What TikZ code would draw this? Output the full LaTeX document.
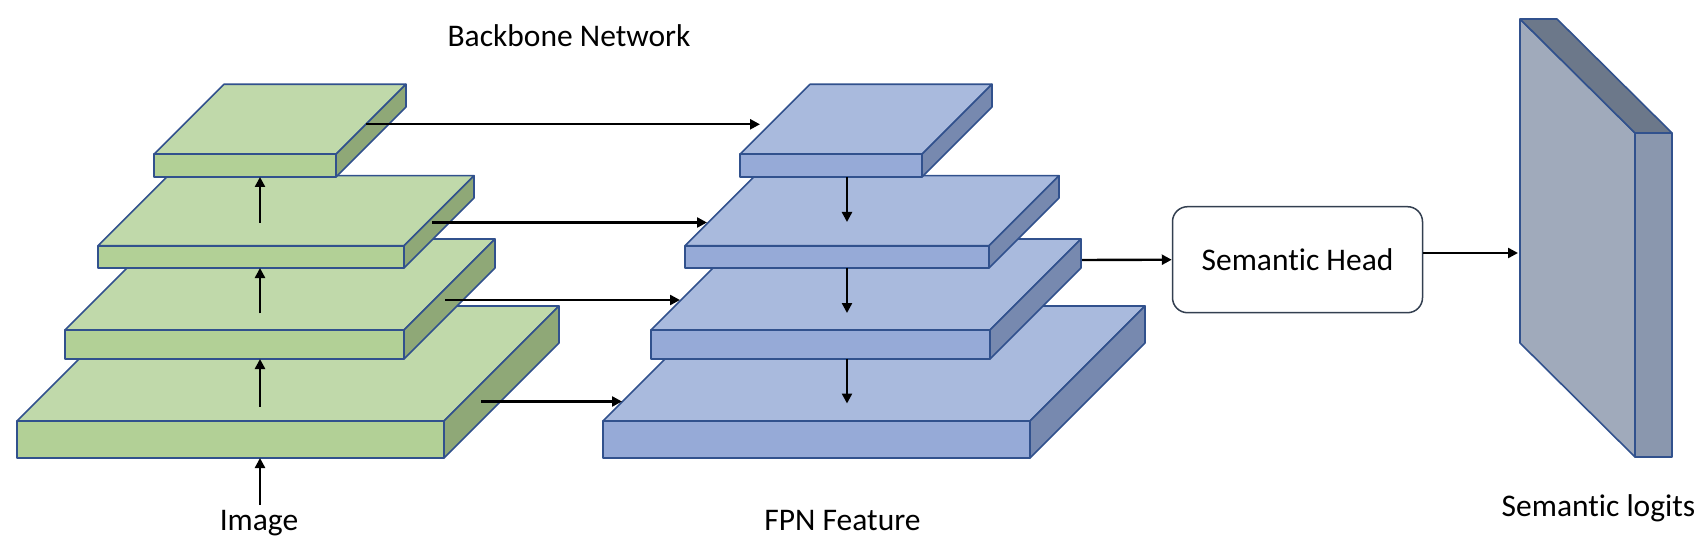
\documentclass[tikz,border=0pt]{standalone}
\usepackage{fontspec}
\setmainfont{Carlito}[Ligatures=NoCommon]
\usetikzlibrary{arrows.meta,calc}

\definecolor{edgeblue}{HTML}{31518D}
\definecolor{headedge}{HTML}{333F50}
\definecolor{greentopc}{HTML}{C0D9AA}
\definecolor{greenfrontc}{HTML}{B2D096}
\definecolor{greensidec}{HTML}{8FA877}
\definecolor{bluetopc}{HTML}{A9BADD}
\definecolor{bluefrontc}{HTML}{96AAD7}
\definecolor{bluesidec}{HTML}{7789AF}
\definecolor{logitfrontc}{HTML}{A0AABB}
\definecolor{logitsidec}{HTML}{8A97AE}
\definecolor{logittopc}{HTML}{6C788A}

% #1 colour prefix, #2 left, #3 right, #4 top, #5 bottom, #6 depth
\newcommand{\slab}[6]{%
  \filldraw[#1top] (#2,#4) -- (#3,#4) -- ($(#3,#4)+(#6,-#6)$) -- ($(#2,#4)+(#6,-#6)$) -- cycle;
  \filldraw[#1side] (#3,#4) -- ($(#3,#4)+(#6,-#6)$) -- ($(#3,#5)+(#6,-#6)$) -- (#3,#5) -- cycle;
  \filldraw[#1front] (#2,#4) rectangle (#3,#5);
}

\begin{document}
\begin{tikzpicture}[x=1pt,y=-1pt,
    face/.style={draw=edgeblue,line width=1.6pt,line join=round},
    greentop/.style={face,fill=greentopc},
    greenfront/.style={face,fill=greenfrontc},
    greenside/.style={face,fill=greensidec},
    bluetop/.style={face,fill=bluetopc},
    bluefront/.style={face,fill=bluefrontc},
    blueside/.style={face,fill=bluesidec},
    conn/.style={-{Triangle[length=10pt,width=10pt]},line width=2.4pt},
    txt/.style={font=\fontsize{31.5}{38}\selectfont,inner sep=0pt},
    head/.style={draw=headedge,line width=1.5pt,rounded corners=15pt,
      minimum width=250pt,minimum height=106pt,font=\fontsize{31.5}{38}\selectfont}]
  \useasboundingbox (0,0) rectangle (1702,548);

  % backbone
  \slab{green}{17}{444}{421}{458}{115}
  \slab{green}{65}{404}{330}{359}{91}
  \slab{green}{98}{404}{245.7}{268}{70}
  \slab{green}{154}{336}{154.3}{177}{70}

  % fpn
  \slab{blue}{603}{1030}{421}{458}{115}
  \slab{blue}{651}{990}{330}{359}{91}
  \slab{blue}{685}{989}{245.7}{268}{70}
  \slab{blue}{740}{922}{154.3}{177}{70}

  % logits
  \filldraw[face,fill=logitfrontc] (1520,19) -- (1635,133) -- (1635,457) -- (1520,343) -- cycle;
  \filldraw[face,fill=logittopc] (1520,19) -- (1557,19) -- (1672,133) -- (1635,133) -- cycle;
  \filldraw[face,fill=logitsidec] (1635,133) -- (1672,133) -- (1672,457) -- (1635,457) -- cycle;

  \node[txt,anchor=base] (backbone) at (569,46.7) {Backbone Network};
  \node[txt,anchor=base] (img) at (259,530.7) {Image};
  \node[txt,anchor=base] (fpn) at (842.5,530.7) {FPN Feature};
  \node[txt,anchor=base] (logits) at (1598.5,516) {Semantic logits};
  \node[head] (head) at (1297.5,259.7) {Semantic Head};

  % up the backbone
  \coordinate (g0_up) at (260,505);   \coordinate (g4_bot) at (260,458);
  \coordinate (g4_up) at (260,406.7); \coordinate (g3_bot) at (260,359);
  \coordinate (g3_up) at (260,313.3); \coordinate (g2_bot) at (260,268);
  \coordinate (g2_up) at (260,222.7); \coordinate (g1_bot) at (260,177);
  \draw[conn] (g0_up) -- (g4_bot);
  \draw[conn] (g4_up) -- (g3_bot);
  \draw[conn] (g3_up) -- (g2_bot);
  \draw[conn] (g2_up) -- (g1_bot);

  % lateral
  \coordinate (g1_out) at (366,124.3); \coordinate (b1_in) at (760,124.3);
  \coordinate (g2_out) at (432,222.5); \coordinate (b2_in) at (707,222.5);
  \coordinate (g3_out) at (445,300);   \coordinate (b3_in) at (680,300);
  \coordinate (g4_out) at (481,401.5); \coordinate (b4_in) at (622,401.5);
  \draw[conn] (g1_out) -- (b1_in);
  \draw[conn] (g2_out) -- (b2_in);
  \draw[conn] (g3_out) -- (b3_in);
  \draw[conn] (g4_out) -- (b4_in);

  % top-down
  \coordinate (b1_bot) at (847,177);   \coordinate (b2_dn) at (847,222);
  \coordinate (b2_bot) at (847,267.7); \coordinate (b3_dn) at (847,313);
  \coordinate (b3_bot) at (847,358.7); \coordinate (b4_dn) at (847,403.5);
  \draw[conn] (b1_bot) -- (b2_dn);
  \draw[conn] (b2_bot) -- (b3_dn);
  \draw[conn] (b3_bot) -- (b4_dn);

  % head
  \coordinate (b3_out) at (1082,260);
  \coordinate (logit_in) at (1518,253);
  \draw[conn] (b3_out) -- (head.west);
  \draw[conn] (head.east |- logit_in) -- (logit_in);
\end{tikzpicture}
\end{document}
